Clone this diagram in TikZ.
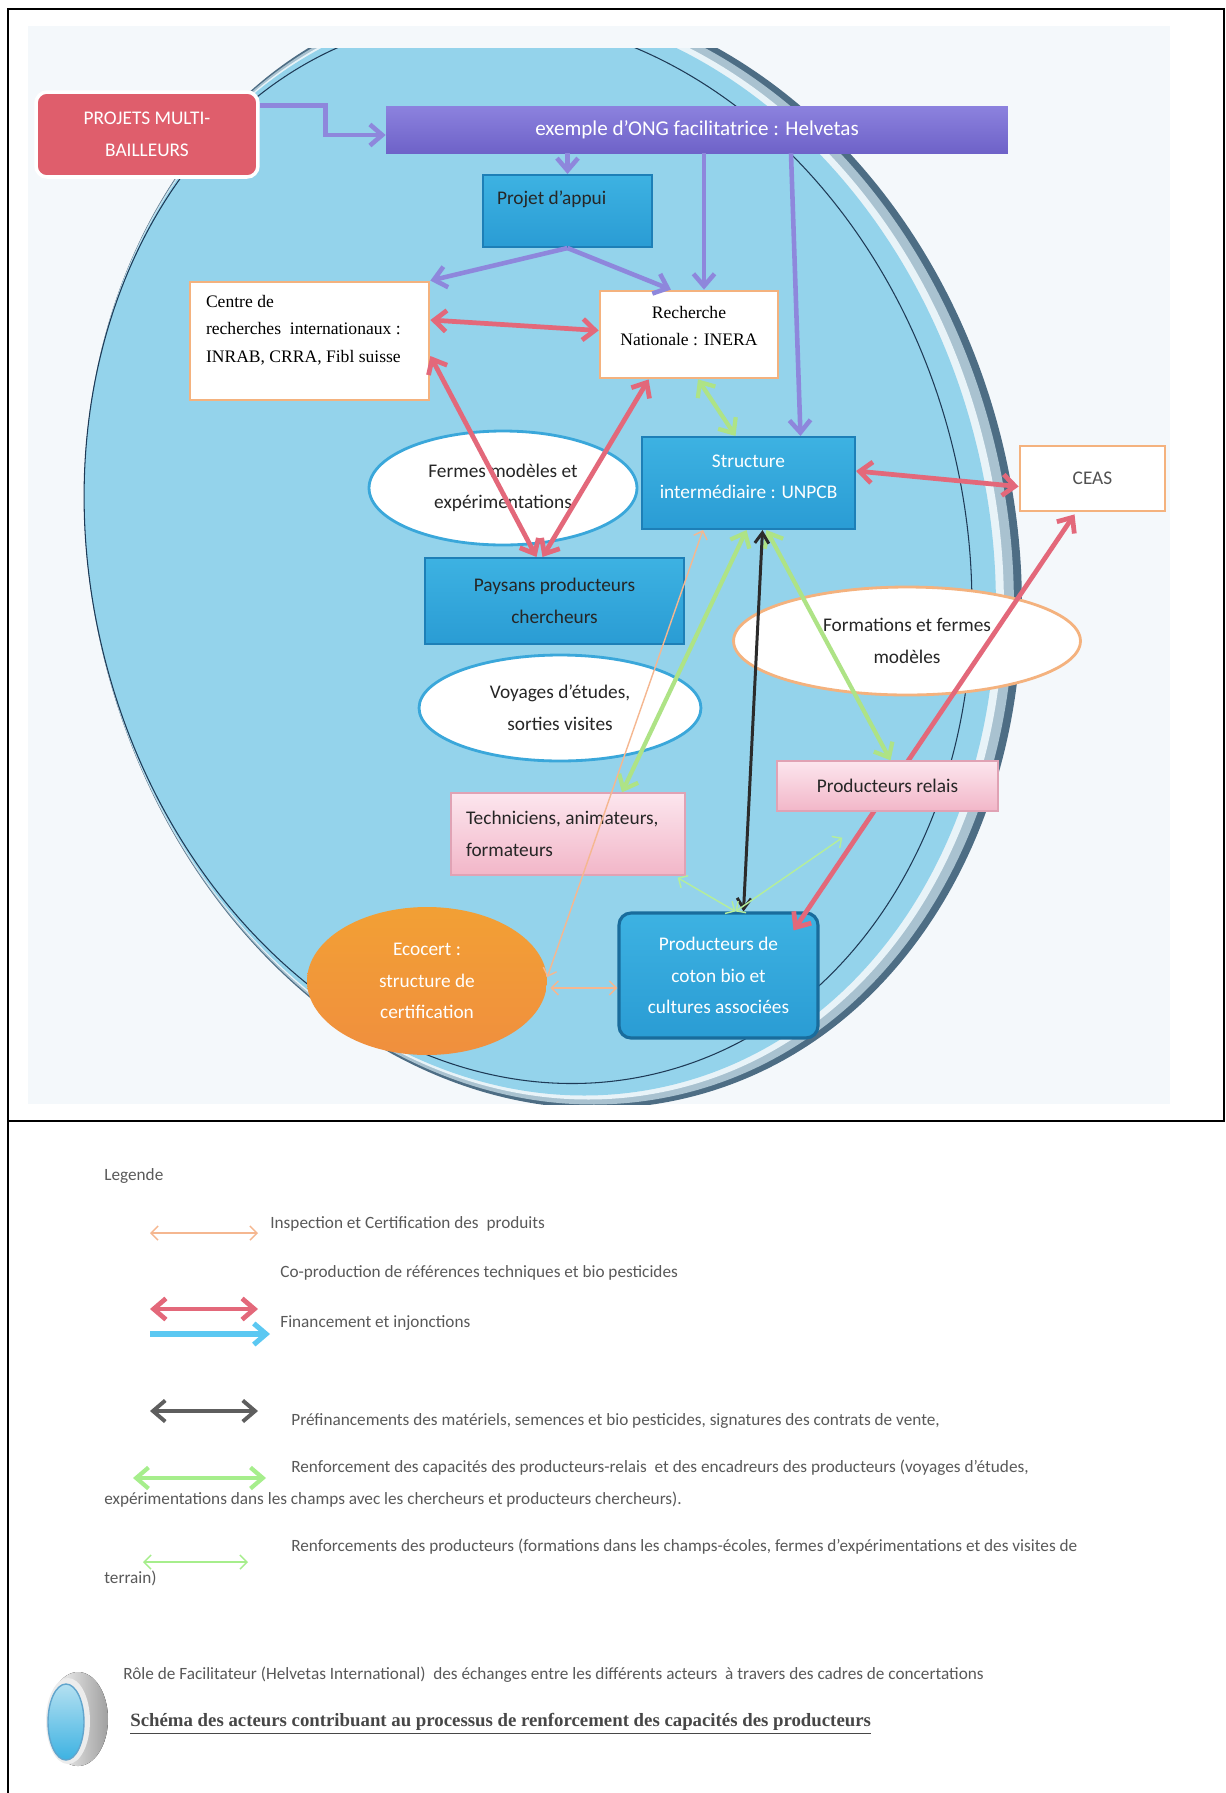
\documentclass[tikz,border=0pt]{standalone}
\usepackage{fontspec}
\setmainfont{Carlito}
\newfontfamily\timesfont{Liberation Serif}
\usetikzlibrary{arrows.meta,positioning,shapes.geometric,calc}

\definecolor{scanbg}{HTML}{F4F8FB}
\definecolor{bigblue}{HTML}{94D3EB}
\definecolor{rimdark}{HTML}{4D6D84}
\definecolor{rimmid}{HTML}{A9C2D0}
\definecolor{rimlight}{HTML}{E8F3F8}
\definecolor{rimline}{HTML}{1E3A56}
\definecolor{boxtop}{HTML}{3DB2E2}
\definecolor{boxbot}{HTML}{2A9CD4}
\definecolor{boxline}{HTML}{1D7FB7}
\definecolor{barlight}{HTML}{8C82DE}
\definecolor{bardark}{HTML}{6E62C8}
\definecolor{projred}{HTML}{DF5E6C}
\definecolor{orangeline}{HTML}{F4B27E}
\definecolor{bubbleline}{HTML}{3AA7DA}
\definecolor{pinktop}{HTML}{FCE6EE}
\definecolor{pinkbot}{HTML}{F2B6C8}
\definecolor{pinkline}{HTML}{E0A2B4}
\definecolor{ecoorange}{HTML}{F08F3E}
\definecolor{linkpurple}{HTML}{8E87DC}
\definecolor{linkred}{HTML}{E3687A}
\definecolor{linkgreen}{HTML}{AEE386}
\definecolor{linkthin}{HTML}{B5EE9A}
\definecolor{linkpeach}{HTML}{F5B790}
\definecolor{linkdark}{HTML}{2B2B2B}
\definecolor{textdark}{HTML}{262626}
\definecolor{legendgrey}{HTML}{595959}
\definecolor{legendblue}{HTML}{5BC8F2}
\definecolor{legenddark}{HTML}{5E5E5E}
\definecolor{legendgreen}{HTML}{A6EE8C}

\begin{document}
\begin{tikzpicture}[x=0.02cm,y=-0.02cm,>={Straight Barb[length=7pt,width=12pt]},
  every node/.style={inner sep=0pt,font=\fontsize{11}{18}\selectfont},
  bluebox/.style={rectangle,draw=boxline,line width=1.2pt,top color=boxtop,bottom color=boxbot,align=flush center},
  whitebox/.style={rectangle,draw=orangeline,line width=1.6pt,fill=white,align=flush center},
  pinkbox/.style={rectangle,draw=pinkline,line width=0.8pt,top color=pinktop,bottom color=pinkbot,text=textdark},
  bubble/.style={ellipse,draw=bubbleline,line width=1.6pt,fill=white,align=flush center,text=textdark},
  legendtext/.style={anchor=west,text=legendgrey,font=\fontsize{9.8}{12}\selectfont}]

\useasboundingbox (0,0) rectangle (1225,1793);
\fill[white] (0,0) rectangle (1225,1793);
\draw[line width=1.1pt] (8,1793) -- (8,9) -- (1224,9) -- (1224,1121);
\draw[line width=1.1pt] (8,1121) -- (1225,1121);
\fill[scanbg] (28,26) rectangle (1170,1104);

\begin{scope}
  \clip (28,48) rectangle (1170,1104);
  \fill[rimdark, rotate around={14.2:(553,550)}] (553,550) ellipse [x radius=462, y radius=564];
  \fill[rimmid, rotate around={14.2:(549,550)}] (549,550) ellipse [x radius=458, y radius=560];
  \fill[rimlight, rotate around={14.2:(544,550)}] (544,550) ellipse [x radius=453, y radius=555];
  \fill[bigblue, rotate around={14.2:(540,550)}] (540,550) ellipse [x radius=449, y radius=551];
  \draw[rimline, line width=0.6pt, rotate around={14.2:(528,550)}] (528,550) ellipse [x radius=437, y radius=539];
\end{scope}

\node[rectangle,rounded corners=0.22cm,fill=projred,draw=white,line width=2pt,text=white,align=center,
      minimum width=4.44cm,minimum height=1.7cm] (projets) at (147,134.5) {PROJETS MULTI-\\BAILLEURS};
\node[rectangle,top color=barlight,bottom color=bardark,text=white,minimum width=12.44cm,minimum height=0.94cm,
      font=\fontsize{12}{14}\selectfont] (helvetas) at (697,129.5) {exemple d’ONG facilitatrice : Helvetas};
\node[bluebox,text=textdark,align=flush left,minimum width=3.38cm,minimum height=1.44cm,inner xsep=0.28cm,
      text width=2.82cm,text height=0.58cm,text depth=0.86cm] (appui) at (567.5,211) {Projet d’appui};
\node[whitebox,align=flush left,minimum width=4.78cm,minimum height=2.36cm,inner xsep=0.32cm,text width=4.14cm,
      text height=0.51cm,text depth=1.85cm,font=\timesfont\fontsize{10}{15.6}\selectfont] (centre) at (309.5,341)
      {Centre de\\recherches\ \ internationaux :\\INRAB, CRRA, Fibl suisse};
\node[whitebox,minimum width=3.56cm,minimum height=1.74cm,text width=3.4cm,text height=0.55cm,text depth=1.19cm,
      font=\timesfont\fontsize{10}{15.6}\selectfont] (recherche) at (689,334.5) {Recherche\\Nationale : INERA};
\node[bluebox,text=white,minimum width=4.26cm,minimum height=1.84cm,text width=4.0cm,text height=0.6cm,
      text depth=1.24cm] (structure) at (748.5,483) {Structure\\intermédiaire : UNPCB};
\node[whitebox,text=textdark!80,minimum width=2.9cm,minimum height=1.3cm] (ceas) at (1092.5,478.5) {CEAS};
\node[bubble,minimum width=5.36cm,minimum height=2.28cm] (fermes) at (503,488) {Fermes modèles et\\expérimentations};
\node[bluebox,text=textdark,minimum width=5.18cm,minimum height=1.72cm] (paysans) at (554.5,601) {Paysans producteurs\\chercheurs};
\node[bubble,minimum width=5.64cm,minimum height=2.12cm] (voyages) at (560,708) {Voyages d’études,\\sorties visites};
\node[bubble,draw=orangeline,minimum width=6.94cm,minimum height=2.16cm] (formations) at (907,641) {Formations et fermes\\modèles};
\node[pinkbox,align=flush left,minimum width=4.68cm,minimum height=1.64cm,text width=4.08cm] (techniciens) at (568,834)
      {Techniciens, animateurs,\\formateurs};
\node[bluebox,rounded corners=0.24cm,draw=boxline!85!black,line width=1.8pt,text=white,minimum width=3.98cm,
      minimum height=2.5cm] (coton) at (718.5,975.5) {Producteurs de\\coton bio et\\cultures associées};
\node[ellipse,top color=ecoorange!85!yellow,bottom color=ecoorange,text=white,align=center,minimum width=4.8cm,
      minimum height=2.96cm] (ecocert) at (427,981) {Ecocert :\\structure de\\certification};

\tikzset{purplelink/.style={->,draw=linkpurple,line width=2.6pt}}
\tikzset{redlink/.style={<->,draw=linkred,line width=2.7pt}}
\tikzset{greenlink/.style={<->,draw=linkgreen,line width=2.4pt}}
\tikzset{blacklink/.style={>={Straight Barb[length=6pt,width=8pt]},<->,draw=linkdark,line width=1.7pt}}
\tikzset{thinlink/.style={>={Straight Barb[length=4pt,width=8pt]},<->,draw=linkthin,line width=0.8pt}}
\tikzset{peachlink/.style={thinlink,draw=linkpeach}}

\draw[purplelink] ($(projets.north east)+(0,15)$) -- ++(66,0) |- ($(helvetas.west)+(0,5.5)$);
\draw[purplelink] (helvetas.south -| appui.north) -- (appui.north);
\draw[purplelink] (appui.south) -- (centre.north east);
\draw[purplelink] (appui.south) -- ($(recherche.north west)!0.4!(recherche.north east)$);
\coordinate (rtop) at ($(recherche.north)+(15,0)$);
\draw[purplelink] (rtop |- helvetas.south) -- (rtop);
\draw[purplelink] ($(helvetas.south)+(94,0)$) -- ($(structure.north)+(52,0)$);

\draw[redlink] ($(centre.east)+(0,-21)$) -- ($(recherche.west)+(0,-4)$);
\draw[redlink] ($(centre.east)+(0,15)$) -- ($(paysans.north)+(-18,0)$);
\draw[redlink] ($(recherche.south west)+(50,0)$) -- ($(paysans.north)+(-12,0)$);
\draw[redlink] ($(structure.east)+(0,-12)$) -- ($(ceas.west)+(0,8)$);
\draw[redlink] ($(coton.north east)+(-26,19)$) -- ($(ceas.south)+(-18,2)$);

\node[pinkbox,minimum width=4.42cm,minimum height=1.0cm] (relais) at (887.5,786) {Producteurs relais};

\draw[greenlink] ($(recherche.south)+(9,0)$) -- ($(structure.north)+(-13,0)$);
\draw[greenlink] ($(structure.south)+(-2,0)$) -- ($(techniciens.north)+(54,0)$);
\draw[greenlink] ($(structure.south)+(18,0)$) -- ($(relais.north)+(3,0)$);
\draw[blacklink] ($(structure.south)+(14,0)$) -- ($(coton.north)+(25,0)$);
\draw[thinlink] ($(coton.north)+(17,0)$) -- ($(techniciens.south east)+(-8,2)$);
\draw[thinlink] ($(coton.north)+(17,0)$) -- ($(relais.south west)+(66,26)$);
\draw[peachlink] ($(ecocert.east)+(0,-4)$) -- ($(structure.south west)+(62,0)$);
\draw[peachlink] ($(ecocert.east)+(3,7)$) coordinate (eco) -- (eco -| coton.west);

\node[legendtext] (legende) at (104,1176) {Legende};
\coordinate (kpeachA) at (150,1233);
\coordinate (kpeachB) at (258,1233);
\draw[peachlink] (kpeachA) -- (kpeachB);
\node[legendtext] (tpeach) at (270,1224) {Inspection et Certification des\ \ produits};
\node[legendtext] (tcoprod) at (280,1273) {Co-production de références techniques et bio pesticides};
\coordinate (kredA) at (150,1309);
\coordinate (kredB) at (258,1309);
\draw[redlink] (kredA) -- (kredB);
\coordinate (kblueA) at (150,1334);
\coordinate (kblueB) at (270,1334);
\draw[->,draw=legendblue,line width=2.9pt] (kblueA) -- (kblueB);
\node[legendtext] (tfinance) at (280,1323) {Financement et injonctions};
\coordinate (kdarkA) at (150,1411);
\coordinate (kdarkB) at (258,1411);
\draw[<->,draw=legenddark,line width=2.2pt] (kdarkA) -- (kdarkB);
\node[legendtext] (tprefin) at (291,1421) {Préfinancements des matériels, semences et bio pesticides, signatures des contrats de vente,};
\coordinate (kgreenA) at (133,1478);
\coordinate (kgreenB) at (266,1478);
\draw[greenlink,draw=legendgreen] (kgreenA) -- (kgreenB);
\node[legendtext] (trenfA) at (291,1468) {Renforcement des capacités des producteurs-relais\ \ et des encadreurs des producteurs (voyages d’études,};
\node[legendtext] (trenfB) at (104,1500) {expérimentations dans les champs avec les chercheurs et producteurs chercheurs).};
\coordinate (kthinA) at (143,1562);
\coordinate (kthinB) at (248,1562);
\draw[thinlink,draw=legendgreen] (kthinA) -- (kthinB);
\node[legendtext] (tprodA) at (291,1547) {Renforcements des producteurs (formations dans les champs-écoles, fermes d’expérimentations et des visites de};
\node[legendtext] (tprodB) at (104,1578) {terrain)};

\fill[left color=white,right color=gray!75] (78,1719) ellipse [x radius=30, y radius=47];
\fill[white!85!gray] (68,1721) ellipse [x radius=22, y radius=43];
\fill[top color=bigblue!70!white,bottom color=boxtop,draw=boxline!70,line width=0.8pt] (66,1722) ellipse [x radius=18, y radius=38];
\node[legendtext] (trole) at (123,1675) {Rôle de Facilitateur (Helvetas International)\ \ des échanges entre les différents acteurs\ \ à travers des cadres de concertations};
\node[legendtext,text=black!72,font=\timesfont\bfseries\fontsize{10.7}{13}\selectfont] (titre) at (130,1724)
      {\underline{Schéma des acteurs contribuant au processus de renforcement des capacités des producteurs}};
\end{tikzpicture}
\end{document}
